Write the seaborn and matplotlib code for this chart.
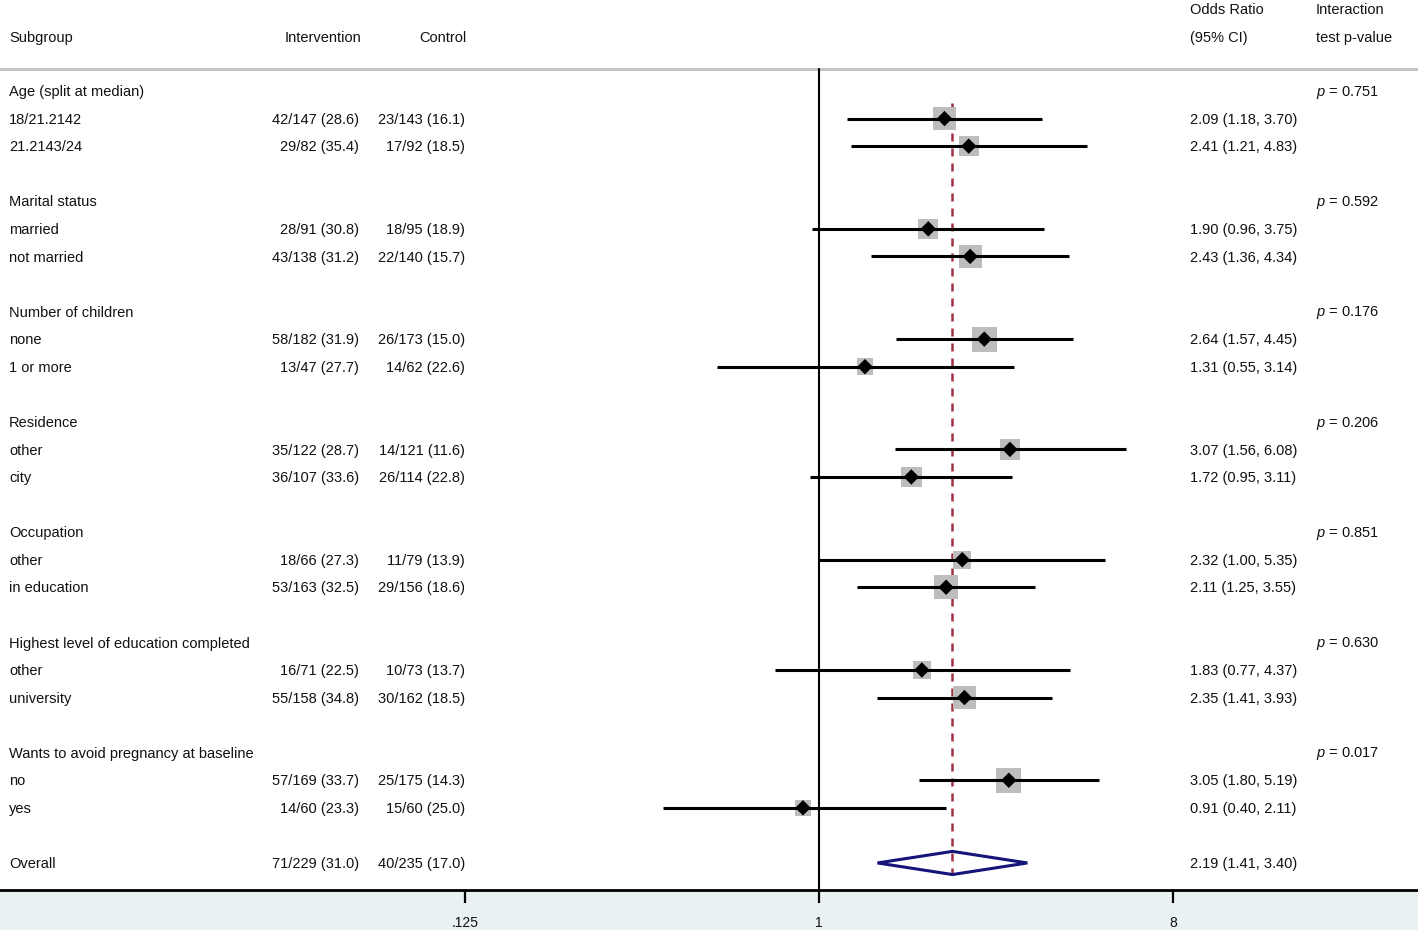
import numpy as np
import pandas as pd
import matplotlib
matplotlib.use("Agg")
import matplotlib.pyplot as plt
import seaborn as sns
from matplotlib.transforms import blended_transform_factory
from matplotlib.ticker import NullLocator

# ---------------- data ----------------
groups = ["Age (split at median)", "Marital status", "Number of children", "Residence",
          "Occupation", "Highest level of education completed",
          "Wants to avoid pregnancy at baseline"]
pvalues = ["0.751", "0.592", "0.176", "0.206", "0.851", "0.630", "0.017"]
subgroups = ["18/21.2142", "21.2143/24", "married", "not married", "none", "1 or more",
             "other", "city", "other", "in education", "other", "university", "no", "yes"]
intervention = ["42/147 (28.6)", "29/82 (35.4)", "28/91 (30.8)", "43/138 (31.2)",
                "58/182 (31.9)", "13/47 (27.7)", "35/122 (28.7)", "36/107 (33.6)",
                "18/66 (27.3)", "53/163 (32.5)", "16/71 (22.5)", "55/158 (34.8)",
                "57/169 (33.7)", "14/60 (23.3)"]
control = ["23/143 (16.1)", "17/92 (18.5)", "18/95 (18.9)", "22/140 (15.7)",
           "26/173 (15.0)", "14/62 (22.6)", "14/121 (11.6)", "26/114 (22.8)",
           "11/79 (13.9)", "29/156 (18.6)", "10/73 (13.7)", "30/162 (18.5)",
           "25/175 (14.3)", "15/60 (25.0)"]
odds_ratio = [2.09, 2.41, 1.90, 2.43, 2.64, 1.31, 3.07, 1.72, 2.32, 2.11, 1.83, 2.35, 3.05, 0.91]
ci_low = [1.18, 1.21, 0.96, 1.36, 1.57, 0.55, 1.56, 0.95, 1.00, 1.25, 0.77, 1.41, 1.80, 0.40]
ci_high = [3.70, 4.83, 3.75, 4.34, 4.45, 3.14, 6.08, 3.11, 5.35, 3.55, 4.37, 3.93, 5.19, 2.11]
box_weight = [22, 19, 19, 22, 24, 16, 20, 20, 17, 23, 17, 22, 24, 16]

overall_label = "Overall"
overall_int = "71/229 (31.0)"
overall_ctrl = "40/235 (17.0)"
overall_or, overall_lo, overall_hi = 2.19, 1.41, 3.40

xticks = [0.125, 1, 8]
xtick_labels = [".125", "1", "8"]

# ---------------- style ----------------
sns.set_theme(style="white")
plt.rcParams["font.family"] = ["Liberation Sans", "DejaVu Sans"]
plt.rcParams["mathtext.fontset"] = "custom"
plt.rcParams["mathtext.it"] = "Liberation Sans:italic"
plt.rcParams["mathtext.rm"] = "Liberation Sans"

W, H = 1418, 930
fig = plt.figure(figsize=(W / 100, H / 100), dpi=100, facecolor="#e9f1f3")
ax = fig.add_axes([0, 40 / H, 1, 890 / H])
ax.set_facecolor("white")

px1, pxunit = 819, 118.0
ax.set_xscale("log", base=2)
ax.set_xlim(2 ** ((0 - px1) / pxunit), 2 ** ((W - px1) / pxunit))
row0, rowh = 91, 27.57
ax.set_ylim((890 - row0) / rowh, (0 - row0) / rowh)

def prow(px):
    return (px - row0) / rowh

# rows
sub_rows = []
for g in range(len(groups)):
    sub_rows += [4 * g + 1, 4 * g + 2]
overall_row = 28

df = pd.DataFrame({"or": odds_ratio, "lo": ci_low, "hi": ci_high,
                   "row": sub_rows, "w": box_weight})

# reference lines
ax.axhline(prow(69), color="#c4c4c4", lw=2.2, zorder=1)
ax.plot([1, 1], [prow(69), prow(890)], color="black", lw=1.5, zorder=1)
ax.plot([overall_or, overall_or], [prow(103), prow(875)], color="#a33040",
        lw=1.8, dashes=(3.2, 2.8), zorder=2)

# CI lines
ax.hlines(df["row"], df["lo"], df["hi"], color="black", lw=2.2, zorder=3)

# weighted boxes
sns.scatterplot(data=df, x="or", y="row", marker="s", s=(df["w"] * 1.04 / 1.389) ** 2,
                color="#bdbdbd", edgecolor="none", linewidth=0, zorder=2.5,
                ax=ax, legend=False)
# point estimates
sns.scatterplot(data=df, x="or", y="row", marker="D", s=62, color="black",
                edgecolor="none", linewidth=0, zorder=4, ax=ax, legend=False)

# overall diamond
dh = 0.42
ax.fill([overall_lo, overall_or, overall_hi, overall_or, overall_lo],
        [overall_row, overall_row - dh, overall_row, overall_row + dh, overall_row],
        facecolor="none", edgecolor="#14147a", lw=2.2, zorder=4)

# text columns
tr = blended_transform_factory(ax.transAxes, ax.transData)
fs = 10.5
tc = "#111111"
dy = 1.2 / rowh

def put(xpx, y, s, ha="left"):
    ax.text(xpx / W, y + dy, s, transform=tr, ha=ha, va="center", fontsize=fs, color=tc)

hdr2 = prow(37)
hdr1 = prow(9)
put(9, hdr2, "Subgroup")
put(361, hdr2, "Intervention", ha="right")
put(466, hdr2, "Control", ha="right")
put(1190, hdr1, "Odds Ratio")
put(1190, hdr2, "(95% CI)")
put(1316, hdr1, "Interaction")
put(1316, hdr2, "test p-value")

for g, name in enumerate(groups):
    put(9, 4 * g, name)
    put(1316, 4 * g, "$p$ = " + pvalues[g])

for i, r in enumerate(sub_rows):
    put(9, r, subgroups[i])
    put(359, r, intervention[i], ha="right")
    put(465, r, control[i], ha="right")
    put(1190, r, f"{odds_ratio[i]:.2f} ({ci_low[i]:.2f}, {ci_high[i]:.2f})")

put(9, overall_row, overall_label)
put(359, overall_row, overall_int, ha="right")
put(465, overall_row, overall_ctrl, ha="right")
put(1190, overall_row, f"{overall_or:.2f} ({overall_lo:.2f}, {overall_hi:.2f})")

# axes styling
for sp in ["top", "left", "right"]:
    ax.spines[sp].set_visible(False)
ax.spines["bottom"].set_color("black")
ax.spines["bottom"].set_linewidth(2.0)
ax.set_yticks([])
ax.set_xticks(xticks)
ax.set_xticklabels(xtick_labels)
ax.xaxis.set_minor_locator(NullLocator())
ax.tick_params(axis="x", direction="out", length=9.5, width=1.6, color="black",
               pad=9, labelsize=10, labelcolor=tc, bottom=True)
ax.set_xlabel("")
ax.set_ylabel("")

fig.savefig("out.png", dpi=100, facecolor=fig.get_facecolor())
